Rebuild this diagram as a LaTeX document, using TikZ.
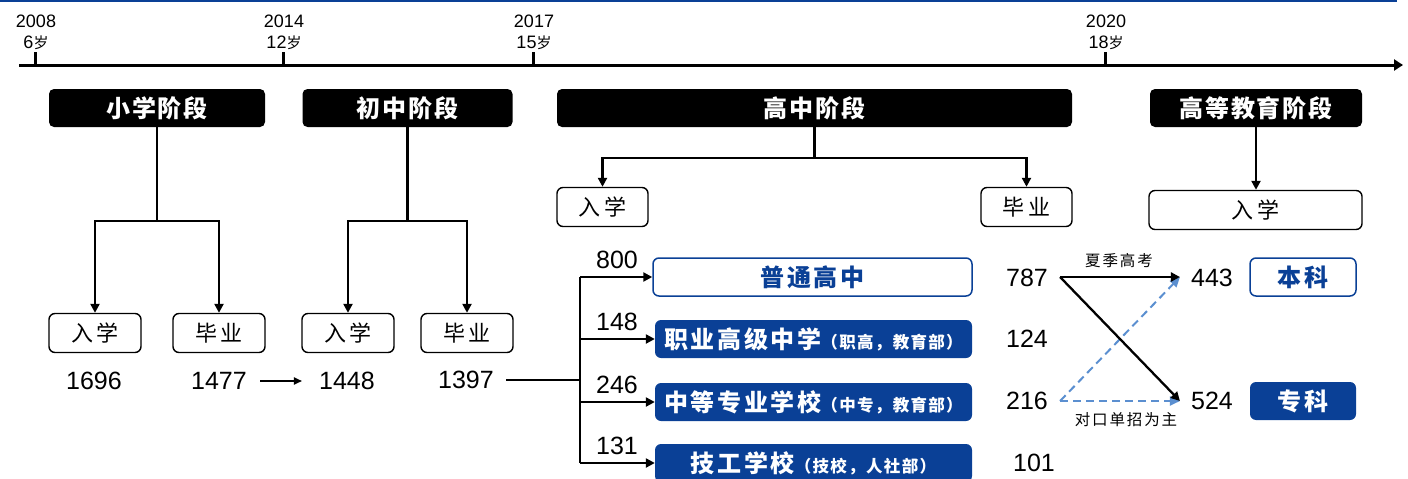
\documentclass[tikz,border=0pt]{standalone}
\usepackage{fontspec}
\setmainfont{Liberation Sans}
\newfontfamily\cjk{Noto Sans CJK SC}
\usetikzlibrary{arrows.meta}
\definecolor{dblue}{HTML}{0A4096}
\definecolor{lblue}{HTML}{5B8FD0}
\newcommand{\hdrfont}{\cjk\bfseries\fontsize{24}{28}\selectfont\addfontfeature{LetterSpace=8}}
\newcommand{\boxfont}{\cjk\fontsize{22}{26}\selectfont\addfontfeature{LetterSpace=18}}
\newcommand{\numfont}{\fontsize{25}{28}\selectfont}
\newcommand{\yrfont}{\fontsize{18}{20}\selectfont}
\newcommand{\agefont}{\cjk\fontsize{15}{16}\selectfont}
\newcommand{\blfont}{\cjk\bfseries\fontsize{24}{28}\selectfont\addfontfeature{LetterSpace=10}}
\newcommand{\mainb}[1]{{\cjk\bfseries\fontsize{24}{28}\selectfont\addfontfeature{LetterSpace=11}#1}}
\newcommand{\parb}[1]{{\cjk\bfseries\fontsize{16.5}{20}\selectfont\addfontfeature{LetterSpace=8}#1}}
\newcommand{\smfont}{\cjk\fontsize{15.5}{18}\selectfont\addfontfeature{LetterSpace=12}}
\begin{document}
\begin{tikzpicture}[x=1pt,y=-1pt,
  hdr/.style={fill=black, rounded corners=5pt, text=white, font=\hdrfont, minimum height=38pt, inner sep=0pt},
  wbox/.style={draw=black, line width=1.4pt, rounded corners=6pt, fill=white, minimum height=39pt, font=\boxfont, inner sep=0pt},
  num/.style={font=\numfont, inner sep=0pt},
  yr/.style={font=\yrfont, inner sep=0pt},
  conn/.style={line width=2.3pt},
  arr/.style={conn, -{Triangle[length=9pt,width=9pt]}},
  sarr/.style={line width=1.8pt, -{Triangle[length=8pt,width=7pt]}},
  darr/.style={line width=2pt, lblue, dash pattern=on 8pt off 5pt, -{Triangle[length=10pt,width=9pt]}},
  wbbox/.style={draw=dblue, line width=1.5pt, rounded corners=6pt, fill=white, text=dblue, minimum height=38pt, font=\blfont, inner sep=0pt},
  bbox/.style={fill=dblue, rounded corners=6pt, text=white, minimum height=38pt, inner sep=0pt},
  small/.style={font=\smfont, inner sep=0pt}
]
\useasboundingbox (0,0) rectangle (1408,479);
\fill[dblue] (0,0) rectangle (1397,2);

% timeline
\coordinate (tl0) at (19,65);
\coordinate (tl1) at (1403,65);
\draw[line width=3pt, -{Triangle[length=9pt,width=11pt]}] (tl0) -- (tl1);
\foreach \x/\yr/\age in {35/2008/6, 283/2014/12, 533/2017/15, 1105/2020/18}{
  \draw[line width=3pt] (\x,52) -- (\x,65);
  \node[yr, name=y\x] at (\x+1,21) {\yr};
  \node[yr, name=a\x] at (\x+1,43) {\age{\agefont 岁}};
}

% headers
\node[hdr, minimum width=216pt] (h1) at (157,108) {小学阶段};
\node[hdr, minimum width=210pt] (h2) at (407.5,108) {初中阶段};
\node[hdr, minimum width=515pt] (h3) at (814.5,108) {高中阶段};
\node[hdr, minimum width=212pt] (h4) at (1256,108) {高等教育阶段};

% white boxes
\node[wbox, minimum width=92pt] (e1) at (95,333) {入学};
\node[wbox, minimum width=92pt] (g1) at (219,333) {毕业};
\node[wbox, minimum width=92pt] (e2) at (348,333) {入学};
\node[wbox, minimum width=92pt] (g2) at (467,333) {毕业};
\node[wbox, minimum width=91pt] (e3) at (602.5,207) {入学};
\node[wbox, minimum width=91pt] (g3) at (1026.5,207) {毕业};
\node[wbox, minimum width=213pt] (e4) at (1255.5,210) {入学};

% trees
\coordinate (j1) at (157,221);
\draw[conn] (h1.south) -- (j1);
\draw[arr] (j1) -| (e1.north);
\draw[arr] (j1) -| (g1.north);
\coordinate (j2) at (407.5,221);
\draw[conn] (h2.south) -- (j2);
\draw[arr] (j2) -| (e2.north);
\draw[arr] (j2) -| (g2.north);
\coordinate (j3) at (814.5,158);
\draw[conn] (h3.south) -- (j3);
\draw[arr] (j3) -| (e3.north);
\draw[arr] (j3) -| (g3.north);
\draw[arr] (h4.south) -- (h4.south |- e4.north);

% numbers lower left
\node[num] (n1) at (94,381) {1696};
\node[num] (n2) at (219,381) {1477};
\node[num] (n3) at (347,381) {1448};
\node[num] (n4) at (466,380) {1397};
\draw[sarr, shorten <=13pt, shorten >=17pt] (n2.east) -- (n3.west);

% high school branches
\node[wbbox, minimum width=319pt] (s1) at (812.5,277) {普通高中};
\node[bbox, minimum width=317pt] (s2) at (813.5,339) {\mainb{职业高级中学}\parb{（职高，教育部）}};
\node[bbox, minimum width=317pt] (s3) at (813.5,402) {\mainb{中等专业学校}\parb{（中专，教育部）}};
\node[bbox, minimum width=317pt] (s4) at (813.5,463) {\mainb{技工学校}\parb{（技校，人社部）}};
\coordinate (br) at (580,380);
\draw[conn, shorten <=12pt] (n4.east) -- (br);
\draw[conn] (br |- s1.west) -- (br |- s4.west);
\draw[arr] (br |- s1.west) -- (s1.west);
\draw[arr] (br |- s2.west) -- (s2.west);
\draw[arr] (br |- s3.west) -- (s3.west);
\draw[arr] (br |- s4.west) -- (s4.west);
\node[num] (c1) at (617,260) {800};
\node[num] (c2) at (617,322) {148};
\node[num] (c3) at (617,385) {246};
\node[num] (c4) at (617,446) {131};

% right side
\node[num] (r1) at (1027,278) {787};
\node[num] (r2) at (1027,339) {124};
\node[num] (r3) at (1027,401) {216};
\node[num] (r4) at (1034,463) {101};
\node[num] (u1) at (1212,278) {443};
\node[num] (u2) at (1212,401) {524};
\coordinate (p1) at ([xshift=12pt,yshift=1pt]r1.east);
\coordinate (p3) at ([xshift=12pt]r3.east);
\coordinate (q1) at ([xshift=-11pt,yshift=1pt]u1.west);
\coordinate (q2) at ([xshift=-11pt]u2.west);
\draw[darr] (p3) -- (q1);
\draw[darr] (p3) -- (q2);
\draw[arr] (p1) -- (q1);
\draw[arr] (p1) -- (q2);
\node[small] (l1) at (1119,261) {夏季高考};
\node[small] (l2) at (1126,420) {对口单招为主};

\node[wbbox, minimum width=106pt] (k1) at (1303,277) {本科};
\node[bbox, minimum width=106pt, font=\blfont] (k2) at (1303,401) {专科};
\end{tikzpicture}
\end{document}
